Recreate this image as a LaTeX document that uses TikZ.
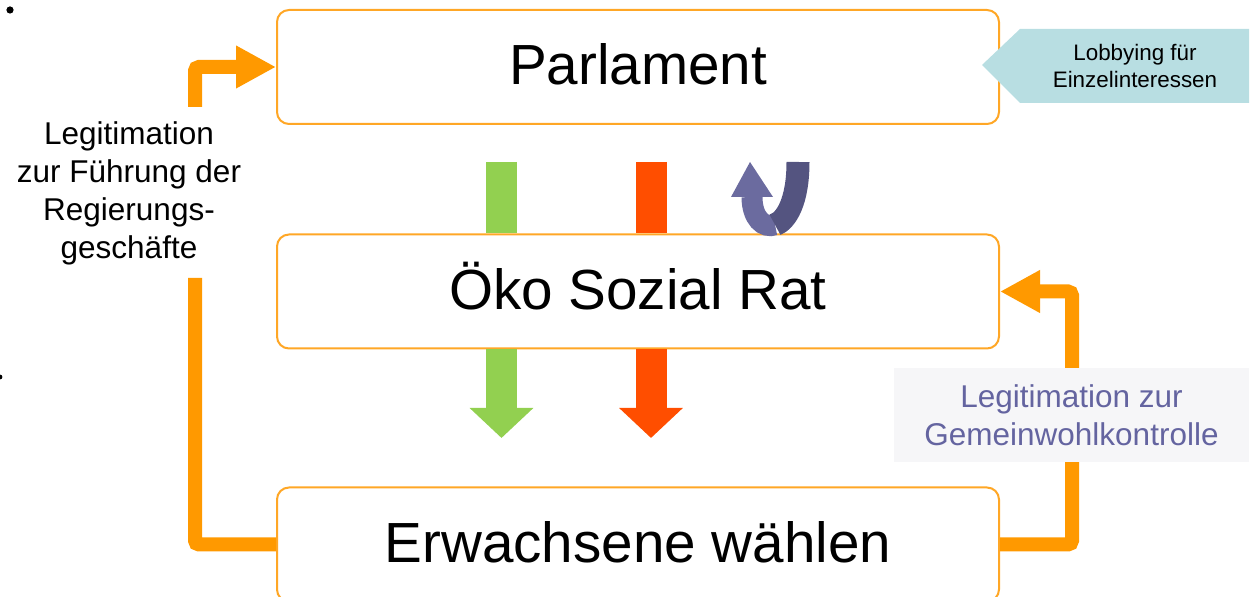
\documentclass[tikz,border=0pt]{standalone}
\usepackage{fontspec}
\setmainfont{Liberation Sans}
\usetikzlibrary{arrows.meta}

\definecolor{strangorange}{HTML}{FF9900}
\definecolor{kastenrand}{HTML}{FFA726}
\definecolor{gruen}{HTML}{92D050}
\definecolor{rot}{HTML}{FF4E00}
\definecolor{lilahell}{HTML}{6B6B9F}
\definecolor{liladunkel}{HTML}{545480}
\definecolor{lobbyblau}{HTML}{B8DEE2}
\definecolor{grauhell}{HTML}{F6F6F8}
\definecolor{lilaschrift}{HTML}{6464A0}

\tikzset{
	kasten/.style={draw=kastenrand, line width=1pt, rounded corners=6pt, fill=white,
		minimum width=361pt, minimum height=57pt, text height=20pt, text depth=2pt,
		font=\fontsize{28.3}{34}\selectfont},
	strang/.style={draw=strangorange, line width=7pt, rounded corners=2pt},
	spitze/.style={-{Triangle[length=20pt,width=20pt]}},
	balken/.style={line width=15.5pt},
	balkenspitze/.style={-{Triangle[length=15pt,width=31pt]}},
	beschr/.style={align=center, font=\fontsize{15.75}{19}\selectfont}
}

\begin{document}
\begin{tikzpicture}[x=0.5pt, y=-0.5pt]
		\useasboundingbox (0, 0) rectangle (1260, 597);
		\clip (0, 0) rectangle (1260, 597);
		% Punkte am Rand
		\fill (10, 10) circle (1.8pt);
		\fill (0, 377) circle (1.2pt);
		% Kaesten
		\node [kasten] (parl) at (638, 67) {Parlament};
		\node [kasten] (oeko) at (638, 291.5) {Öko Sozial Rat};
		\node [kasten] (erw) at (638, 544.5) {Erwachsene wählen};
		% Balken gruen und rot
		\coordinate (g1) at (501.5, 162);
		\coordinate (g2) at (501.5, 438);
		\coordinate (r1) at (651, 162);
		\coordinate (r2) at (651, 438);
		\draw [balken, gruen] (g1) -- (g1 |- oeko.north);
		\draw [balken, balkenspitze, gruen] (g1 |- oeko.south) -- (g2);
		\draw [balken, rot] (r1) -- (r1 |- oeko.north);
		\draw [balken, balkenspitze, rot] (r1 |- oeko.south) -- (r2);
		% Umkehrpfeil
		\draw [line width=10.5pt, lilahell] (775, 224.75) .. controls (763.5, 229) and (752, 218) .. (752, 197);
		\fill [lilahell] (731, 197) -- (773, 197) -- (750, 162) -- cycle;
		\draw [line width=11.5pt, liladunkel] (798, 162) .. controls (798, 201) and (786.5, 220.5) .. (775, 224.75);
		% Linker Strang
		\coordinate (lo) at (195, 278);
		\coordinate (lu) at (195, 107);
		\draw [strang] (erw.west) -| (lo);
		\draw [strang, spitze] (lu) |- (parl.west);
		\node [beschr] (legl) at (129, 193.5) {Legitimation\\zur Führung der\\Regierungs-\\geschäfte};
		% Rechter Strang
		\draw [strang, spitze] (erw.east) -- (1072, 544.5) |- (oeko.east);
		\node [beschr, fill=grauhell, text=lilaschrift, minimum width=177.5pt, minimum height=47pt]
			(legr) at (1071.5, 415) {Legitimation zur\\Gemeinwohlkontrolle};
		% Lobbying
		\fill [lobbyblau] (982, 65) -- (1020, 29) -- (1249, 29) -- (1249, 103) -- (1020, 103) -- cycle;
		\node [align=center, font=\fontsize{11.2}{13.5}\selectfont] (lobby) at (1135, 66.5) {Lobbying für\\Einzelinteressen};
	\end{tikzpicture}
\end{document}
